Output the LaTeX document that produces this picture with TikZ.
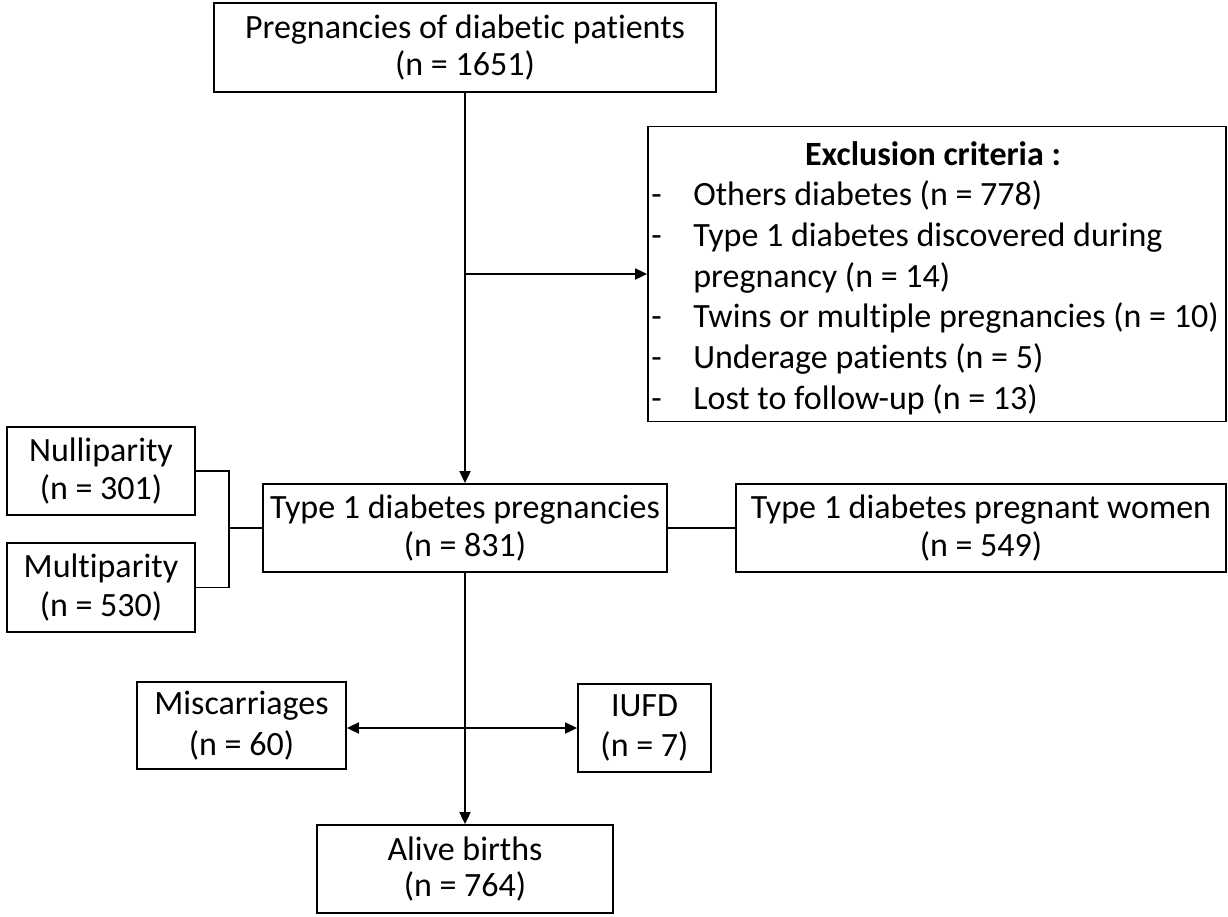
\documentclass[tikz,border=0pt]{standalone}
\usepackage{fontspec}
\setmainfont{Carlito}[Ligatures=NoCommon]
\usetikzlibrary{arrows.meta}
\newcommand{\dashmark}{\hspace*{4pt}-}
\begin{document}
\begin{tikzpicture}[x=1pt,y=-1pt,
  box/.style={draw, line width=1.8pt, inner sep=0pt, align=center,
    font=\fontsize{34}{38.5}\selectfont},
  conn/.style={line width=1.8pt},
  arr/.style={conn, -{Triangle[length=12pt,width=11pt]}},
  darr/.style={conn, {Triangle[length=12pt,width=11pt]}-{Triangle[length=12pt,width=11pt]}}]
\useasboundingbox (0,0) rectangle (1228,916);
\node[box, minimum width=502pt, minimum height=89pt,
  font=\fontsize{34}{36.5}\selectfont] (top) at (465,47.5)
  {Pregnancies of diabetic patients\\(n = 1651)};
\node[box, minimum width=578pt, minimum height=294pt,
  font=\fontsize{34}{40.7}\selectfont] (excl) at (937,274)
  {\hspace*{-8pt}\begin{tabular}{@{}p{46pt}@{}l@{}}
   \multicolumn{2}{c}{\rule{0pt}{38.5pt}\bfseries Exclusion criteria :}\\
   \dashmark&Others diabetes (n = 778)\\
   \dashmark&Type 1 diabetes discovered during\\
   &pregnancy (n = 14)\\
   \dashmark&Twins or multiple pregnancies (n = 10)\\
   \dashmark&Underage patients (n = 5)\\
   \dashmark&Lost to follow-up (n = 13)
   \end{tabular}};
\node[box, minimum width=404pt, minimum height=88pt] (type) at (465,528)
  {Type 1 diabetes pregnancies\\(n = 831)};
\node[box, minimum width=490pt, minimum height=88pt] (women) at (981,528)
  {Type 1 diabetes pregnant women\\(n = 549)};
\node[box, minimum width=188pt, minimum height=88pt] (null) at (101,471)
  {Nulliparity\\(n = 301)};
\node[box, minimum width=188pt, minimum height=89pt] (multi) at (101,587.5)
  {Multiparity\\(n = 530)};
\node[box, minimum width=209pt, minimum height=87pt,
  font=\fontsize{34}{41}\selectfont] (misc) at (241.5,725.5)
  {Miscarriages\\(n = 60)};
\node[box, minimum width=133pt, minimum height=88pt,
  font=\fontsize{34}{40}\selectfont] (iufd) at (644.5,728)
  {IUFD\\(n = 7)};
\node[box, minimum width=296pt, minimum height=88pt,
  font=\fontsize{34}{36}\selectfont] (alive) at (465,869)
  {Alive births\\(n = 764)};
\coordinate (b) at (465,274);
\coordinate (j) at (229,528);
\coordinate (k) at (465,728);
\draw[arr] (top.south) -- (type.north);
\draw[arr] (b) -- (excl.west);
\draw[conn] (null.east) -| (j) |- (multi.east);
\draw[conn] (j) -- (type.west);
\draw[conn] (type.east) -- (women.west);
\draw[arr] (type.south) -- (alive.north);
\draw[darr] (misc.east |- k) -- (iufd.west |- k);
\end{tikzpicture}
\end{document}
